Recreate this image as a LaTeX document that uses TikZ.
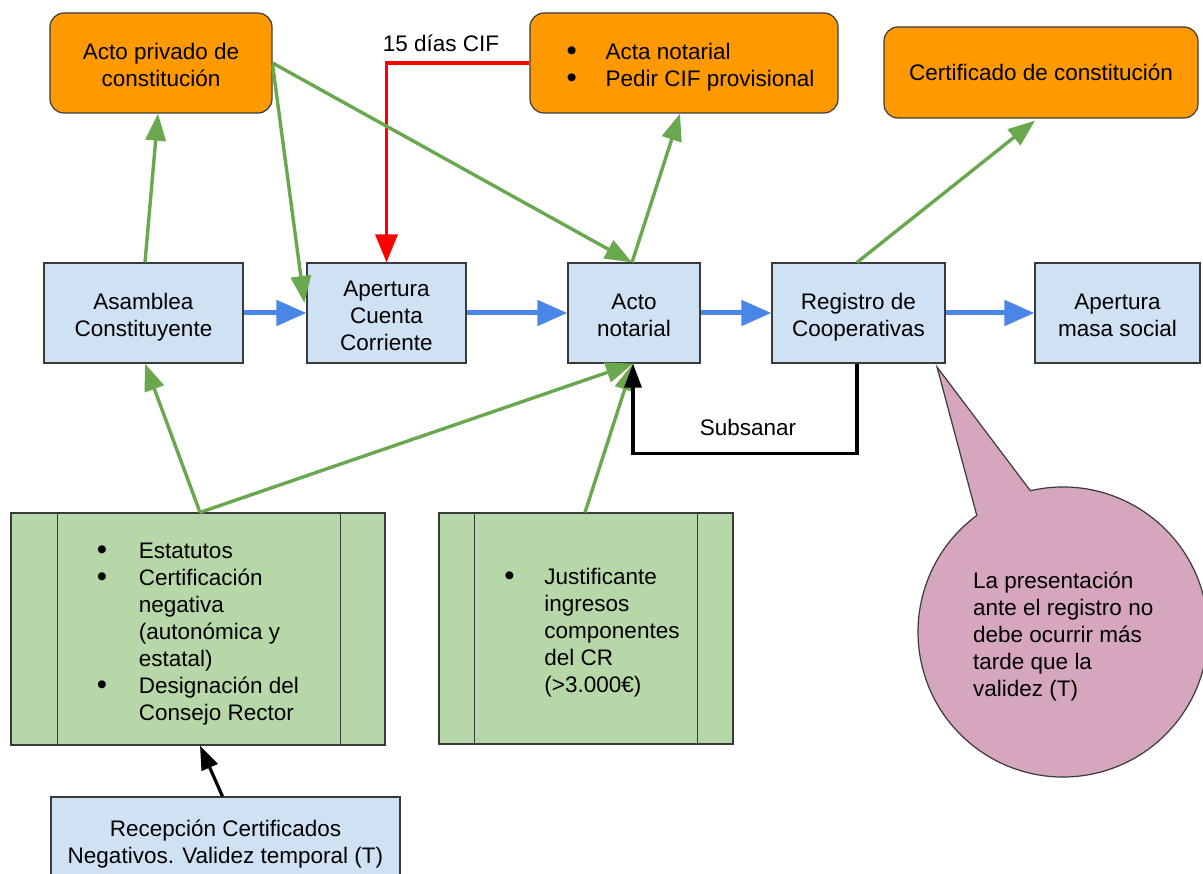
\documentclass[tikz,border=0pt]{standalone}
\usepackage{fontspec}
\setmainfont{Liberation Sans}
\usetikzlibrary{arrows.meta,calc}
\definecolor{orng}{HTML}{FF9900}
\definecolor{lblue}{HTML}{CFE2F3}
\definecolor{lgreen}{HTML}{B6D7A8}
\definecolor{pinkb}{HTML}{D5A6BD}
\definecolor{garrow}{HTML}{6AA84F}
\definecolor{barrow}{HTML}{4A86E8}
\definecolor{bord}{HTML}{3A3A3A}
\tikzset{
  txt/.style={font=\fontsize{22.5}{27}\selectfont, text=black, inner sep=0pt},
  obox/.style={txt, draw=bord, line width=1.2pt, fill=orng, rounded corners=14pt, align=center},
  bbox/.style={txt, draw=bord, line width=1.2pt, fill=lblue, align=center},
  gbox/.style={txt, draw=bord, line width=1.2pt, fill=lgreen},
  garr/.style={draw=garrow, line width=3.4pt, -{Triangle[length=27pt,width=20pt]}},
  barr/.style={draw=barrow, line width=5pt, -{Triangle[length=30pt,width=25pt]}},
  rarr/.style={draw=red, line width=3.5pt, -{Triangle[length=28pt,width=22pt]}},
  karr/.style={draw=black, line width=3.2pt, -{Triangle[length=24pt,width=17pt]}},
  bubble/.style={draw=bord, line width=1.2pt, fill=pinkb},
}
\newcommand{\bl}{\raisebox{-1pt}{\scalebox{1.3}{\textbullet}}}
% n-line block, lowered so that its lines sit centred like the reference
\newcommand{\blk}[3]{\rule{0pt}{\dimexpr 13.5pt*#1+14.6pt\relax}\begin{tabular}{@{}#2@{}}#3\end{tabular}}
\begin{document}
\begin{tikzpicture}[x=1pt,y=1pt]
\useasboundingbox (0,0) rectangle (1203,-874);

% orange boxes
\node[obox, minimum width=222, minimum height=100] (ap) at (161,-63) {\blk{2}{c}{Acto privado de\\constitución}};
\node[obox, minimum width=308, minimum height=100] (acta) at (684,-63)
  {\hspace{13pt}\blk{2}{p{39pt}@{}l}{\bl & Acta notarial\\ \bl & Pedir CIF provisional}};
\node[obox, minimum width=314, minimum height=91] (cert) at (1041,-72.5) {Certificado de constitución};

% blue boxes
\node[bbox, minimum width=199, minimum height=100] (asam) at (143.5,-313) {\blk{2}{c}{Asamblea\\Constituyente}};
\node[bbox, minimum width=159, minimum height=100] (apc) at (386.5,-313) {\blk{3}{c}{Apertura\\Cuenta\\Corriente}};
\node[bbox, minimum width=132, minimum height=100] (an) at (634,-313) {\blk{2}{c}{Acto\\notarial}};
\node[bbox, minimum width=173, minimum height=100] (reg) at (858.5,-313) {\blk{2}{c}{Registro de\\Cooperativas}};
\node[bbox, minimum width=165, minimum height=100] (ams) at (1117.5,-313) {\blk{2}{c}{Apertura\\masa social}};

% green boxes
\node[gbox, minimum width=374, minimum height=232] (g1) at (198,-629)
  {\blk{7}{p{42pt}@{}l}{\bl & Estatutos\\ \bl & Certificación\\ & negativa\\ & (autonómica y\\ & estatal)\\ \bl & Designación del\\ & Consejo Rector}\hspace{40pt}};
\draw[bord, line width=1.2pt] ([xshift=47pt]g1.north west) -- ([xshift=47pt]g1.south west);
\draw[bord, line width=1.2pt] ([xshift=-45pt]g1.north east) -- ([xshift=-45pt]g1.south east);

\node[gbox, minimum width=294, minimum height=231] (g2) at (586,-628.5)
  {\hspace{12pt}\blk{5}{p{40pt}@{}l}{\bl & Justificante\\ & ingresos\\ & componentes\\ & del CR\\ & (>3.000€)}};
\draw[bord, line width=1.2pt] ([xshift=36pt]g2.north west) -- ([xshift=36pt]g2.south west);
\draw[bord, line width=1.2pt] ([xshift=-36pt]g2.north east) -- ([xshift=-36pt]g2.south east);

% reception box
\node[bbox, minimum width=349, minimum height=85] (rec) at (225.5,-839.5) {\blk{2}{c}{Recepción Certificados\\Negativos. Validez temporal (T)}};

% speech bubble
\draw[bubble] (1063,-632) ++(103:145) arc[start angle=103, end angle=-233.5, radius=145] -- (937,-367) -- cycle;
\node[txt, anchor=west] (note) at (973,-632.5) {\blk{5}{l}{La presentación\\ante el registro no\\debe ocurrir más\\tarde que la\\validez (T)}};

% labels
\node[txt] (lcif) at (441,-43) {15 días CIF};
\node[txt] (lsub) at (748,-427) {Subsanar};

% blue flow arrows
\draw[barr] (asam.east) -- (apc.west);
\draw[barr] (apc.east) -- (an.west);
\draw[barr] (an.east) -- (reg.west);
\draw[barr] (reg.east) -- (ams.west);

% red arrow
\draw[rarr] (acta.west) -| (apc.north);

% green arrows
\draw[garr] ([xshift=1.5pt]asam.north) -- ([xshift=-3pt]ap.south);
\draw[garr] ([yshift=-2pt]ap.east) -- ([xshift=-2pt,yshift=10pt]apc.west);
\draw[garr] (ap.east) -- ([xshift=-2pt]an.north);
\draw[garr] ([xshift=-2pt]an.north) -- ([xshift=-4pt]acta.south);
\draw[garr] ([xshift=-1.5pt]reg.north) -- ([xshift=-6pt,yshift=-2pt]cert.south);
\draw[garr] ([xshift=2pt]g1.north) -- ([xshift=1.5pt]asam.south);
\draw[garr] ([xshift=2pt]g1.north) -- ([xshift=-1pt]an.south);
\draw[garr] ([xshift=-1pt]g2.north) -- ([xshift=-1pt]an.south);

% black arrows
\draw[karr] ([xshift=-1.5pt]reg.south) -- ++(0,-90) -| ([xshift=-1pt]an.south);
\draw[karr] ([xshift=-3pt]rec.north) -- ([xshift=2pt]g1.south);
\end{tikzpicture}
\end{document}
